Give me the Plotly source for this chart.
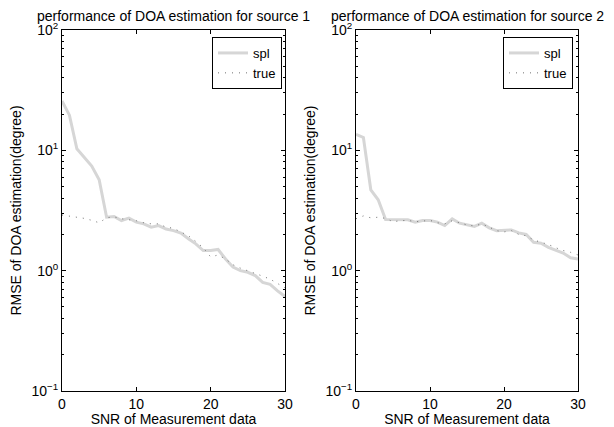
import plotly.graph_objects as go

snr = list(range(0, 31))

spl_src1 = [25.7, 19.6, 10.3, 8.8, 7.4, 5.7, 2.78, 2.82, 2.61, 2.73, 2.53, 2.45, 2.30, 2.37, 2.22, 2.15,
            2.05, 1.84, 1.67, 1.47, 1.47, 1.50, 1.25, 1.07, 1.00, 0.97, 0.91, 0.80, 0.77, 0.68, 0.61]
true_src1 = [2.9, 2.85, 2.8, 2.72, 2.62, 2.5, 2.75, 2.8, 2.7, 2.65, 2.6, 2.5, 2.45, 2.45, 2.3, 2.25,
             2.1, 1.95, 1.75, 1.55, 1.3, 1.35, 1.25, 1.12, 1.05, 1.0, 0.95, 0.9, 0.85, 0.78, 0.72]

spl_src2 = [13.6, 12.8, 4.7, 3.88, 2.66, 2.65, 2.66, 2.65, 2.53, 2.61, 2.61, 2.53, 2.37, 2.69, 2.48, 2.42,
            2.33, 2.48, 2.27, 2.15, 2.15, 2.18, 2.06, 2.0, 1.72, 1.69, 1.56, 1.47, 1.40, 1.28, 1.25]
true_src2 = [2.7, 2.85, 2.75, 2.78, 2.72, 2.55, 2.6, 2.62, 2.55, 2.6, 2.62, 2.5, 2.45, 2.6, 2.5, 2.4,
             2.35, 2.45, 2.3, 2.15, 2.1, 2.15, 2.0, 1.95, 1.8, 1.72, 1.65, 1.55, 1.47, 1.42, 1.35]

titles = ["performance of DOA estimation for source 1", "performance of DOA estimation for source 2"]
xlabel = "SNR of Measurement data"
ylabel = "RMSE of DOA estimation(degree)"
xticks = [0, 10, 20, 30]
yticks = [0.1, 1, 10, 100]
yticklabels = ["10<sup>\u22121</sup>", "10<sup>0</sup>", "10<sup>1</sup>", "10<sup>2</sup>"]
minor_vals = [m * 10 ** e for e in (-1, 0, 1) for m in range(2, 10)]

FONT = "Liberation Sans, Arial, Helvetica, sans-serif"
FS = 14
SPL_COLOR = "#d6d6d6"
TRUE_COLOR = "#707070"

# the page body has an 8px margin, so the figure starts 8px in from the window corner
OFF = 8
W, H = 614 - OFF, 427 - OFF
ML, MT = 62 - OFF, 30 - OFF
MR = W - (578 - OFF)
MB = H - (391 - OFF)
PW = W - ML - MR
PH = H - MT - MB

fig = go.Figure()

series = [(spl_src1, true_src1, "x", "y", "legend"), (spl_src2, true_src2, "x2", "y2", "legend2")]
for spl, tru, xa, ya, lg in series:
    fig.add_trace(go.Scatter(x=snr, y=spl, mode="lines", name="spl", xaxis=xa, yaxis=ya, legend=lg,
                             line=dict(color=SPL_COLOR, width=3)))
    fig.add_trace(go.Scatter(x=snr, y=tru, mode="lines", name="true", xaxis=xa, yaxis=ya, legend=lg,
                             line=dict(color=TRUE_COLOR, width=1, dash="1px,6px")))

xdomains = [[0, (285 - 62) / PW], [(356 - 62) / PW, 1]]

common_x = dict(range=[0, 30], tickvals=xticks, ticks="inside", ticklen=4, showline=True,
                linecolor="black", linewidth=1, mirror="ticks", showgrid=False, zeroline=False,
                tickfont=dict(size=FS, color="black"), tickcolor="black", automargin=False,
                title=dict(text=xlabel, font=dict(size=FS, color="black"), standoff=4))
common_y = dict(type="log", range=[-1, 2], tickvals=yticks, ticktext=yticklabels, ticks="inside",
                ticklen=4, showline=True, linecolor="black", linewidth=1, mirror="ticks",
                showgrid=False, zeroline=False, tickcolor="black", automargin=False,
                tickfont=dict(size=FS, color="black"),
                minor=dict(tickvals=minor_vals, ticks="inside", ticklen=2, tickcolor="black", showgrid=False),
                title=dict(text=ylabel, font=dict(size=FS, color="black"), standoff=6))

legend_common = dict(xanchor="right", yanchor="top", bgcolor="white", bordercolor="black",
                     borderwidth=1, font=dict(size=13, color="black"), tracegroupgap=0, itemwidth=30)

fig.update_layout(
    width=W, height=H,
    margin=dict(l=ML, r=MR, t=MT, b=MB, autoexpand=False),
    paper_bgcolor="white", plot_bgcolor="white",
    font=dict(family=FONT, size=FS, color="black"),
    xaxis=dict(domain=xdomains[0], anchor="y", **common_x),
    yaxis=dict(domain=[0, 1], anchor="x", **common_y),
    xaxis2=dict(domain=xdomains[1], anchor="y2", **common_x),
    yaxis2=dict(domain=[0, 1], anchor="x2", **common_y),
    legend=dict(x=(282 - 62) / PW, y=1 - 7 / PH, **legend_common),
    legend2=dict(x=(573 - 62) / PW, y=1 - 7 / PH, **legend_common),
    showlegend=True,
)

for i, t in enumerate(titles):
    cx = (xdomains[i][0] + xdomains[i][1]) / 2
    fig.add_annotation(text=t, x=cx, y=1 + 14 / PH, xref="paper", yref="paper",
                       xanchor="center", yanchor="middle", showarrow=False,
                       font=dict(size=14, color="black"))

fig.write_html("out.html")
